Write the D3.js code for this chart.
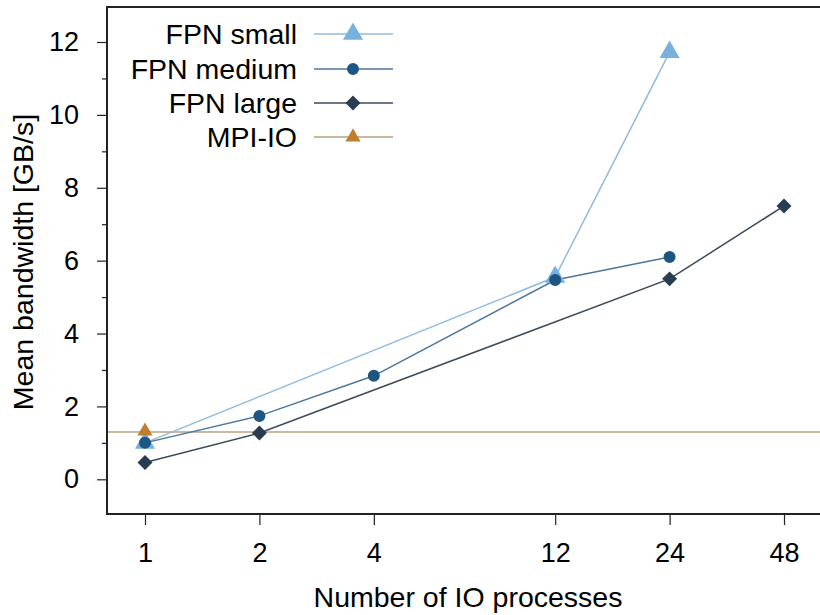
<!DOCTYPE html>
<html>
<head>
<meta charset="utf-8">
<script src="https://cdn.jsdelivr.net/npm/d3@7"></script>
<style>
  body { margin: 0; background: #fff; }
  text { font-family: "Liberation Sans", Arial, sans-serif; fill: #000; }
</style>
</head>
<body>
<div class="canva"></div>
<script>
// data
const xTicks = [1, 2, 4, 12, 24, 48];
const yTicks = [0, 2, 4, 6, 8, 10, 12];
const yMinor = [1, 3, 5, 7, 9, 11];

const smallX = [1, 12, 24];
const smallY = [1.0, 5.55, 11.72];
const mediumX = [1, 2, 4, 12, 24];
const mediumY = [1.0, 1.74, 2.84, 5.47, 6.1];
const largeX = [1, 2, 24, 48];
const largeY = [0.46, 1.27, 5.5, 7.5];
const mpiX = [1];
const mpiY = [1.32];
const mpiLevel = 1.3;

const names = ["FPN small", "FPN medium", "FPN large", "MPI-IO"];

const svg = d3.select(".canva").append("svg")
  .attr("width", 820)
  .attr("height", 615);

const plotLeft = 107, plotTop = 7, plotBottom = 514, plotRight = 830;

const x = d3.scaleLog().base(2).domain([1, 48]).range([145, 784]);
const y = d3.scaleLinear().domain([0, 12]).range([479.3, 42]);

// frame (right side is cut off in the original)
svg.append("path")
  .attr("d", `M${plotRight},${plotTop}H${plotLeft}V${plotBottom}H${plotRight}`)
  .attr("fill", "none")
  .attr("stroke", "#222")
  .attr("stroke-width", 2);

// y axis
const yAxis = svg.append("g")
  .attr("transform", `translate(${plotLeft - 1},0)`)
  .call(d3.axisLeft(y).tickValues(yTicks).tickSize(9).tickPadding(18).tickSizeOuter(0))
  .style("font-size", "27px")
  .style("font-family", "Liberation Sans, Arial, sans-serif");
yAxis.select(".domain").remove();
yAxis.selectAll("line").attr("stroke", "#222").attr("stroke-width", 1.2);

svg.append("g")
  .attr("transform", `translate(${plotLeft - 1},0)`)
  .call(d3.axisLeft(y).tickValues(yMinor).tickSize(4).tickFormat(""))
  .call(g => g.select(".domain").remove())
  .selectAll("line").attr("stroke", "#222").attr("stroke-width", 1.2);

// x axis
const xAxis = svg.append("g")
  .attr("transform", `translate(0,${plotBottom + 1})`)
  .call(d3.axisBottom(x).tickValues(xTicks).tickFormat(d3.format("d")).tickSize(10).tickPadding(18).tickSizeOuter(0))
  .style("font-size", "27px")
  .style("font-family", "Liberation Sans, Arial, sans-serif");
xAxis.select(".domain").remove();
xAxis.selectAll("line").attr("stroke", "#222").attr("stroke-width", 1.2);

// axis titles
svg.append("text")
  .attr("transform", "translate(33,262) rotate(-90)")
  .attr("text-anchor", "middle")
  .style("font-size", "28.5px")
  .text("Mean bandwidth [GB/s]");

svg.append("text")
  .attr("x", 468).attr("y", 607)
  .attr("text-anchor", "middle")
  .style("font-size", "28.5px")
  .text("Number of IO processes");

// MPI-IO reference level
svg.append("line")
  .attr("x1", plotLeft + 1).attr("x2", plotRight)
  .attr("y1", y(mpiLevel)).attr("y2", y(mpiLevel))
  .attr("stroke", "#b8a283")
  .attr("stroke-width", 1.6);

const series = [
  {xs: smallX, ys: smallY, line: "#8fbbe2", fill: "#78b0df", sym: d3.symbolTriangle, size: 175, rot: 0},
  {xs: mediumX, ys: mediumY, line: "#4c779e", fill: "#1d5583", sym: d3.symbolCircle, size: 113, rot: 0},
  {xs: largeX, ys: largeY, line: "#3b4b5c", fill: "#283d50", sym: d3.symbolSquare, size: 112, rot: 45},
  {xs: mpiX, ys: mpiY, line: "#b8a283", fill: "#c07f2c", sym: d3.symbolTriangle, size: 100, rot: 0}
];

const line = d3.line()
  .x(d => x(d[0]))
  .y(d => y(d[1]));

series.forEach(s => {
  const pts = s.xs.map((v, i) => [v, s.ys[i]]);
  if (pts.length > 1) {
    svg.append("path")
      .datum(pts)
      .attr("d", line)
      .attr("fill", "none")
      .attr("stroke", s.line)
      .attr("stroke-width", 1.5);
  }
});

series.forEach(s => {
  const pts = s.xs.map((v, i) => [v, s.ys[i]]);
  svg.selectAll(null)
    .data(pts)
    .enter()
    .append("path")
    .attr("d", d3.symbol().type(s.sym).size(s.size))
    .attr("transform", d => `translate(${x(d[0])},${y(d[1])}) rotate(${s.rot})`)
    .attr("fill", s.fill);
});

// legend
const legendY = [34, 69, 103, 137];
series.forEach((s, i) => {
  svg.append("text")
    .attr("x", 297).attr("y", legendY[i])
    .attr("dy", "0.35em")
    .attr("text-anchor", "end")
    .style("font-size", "28.5px")
    .text(names[i]);
  svg.append("line")
    .attr("x1", 314).attr("x2", 393)
    .attr("y1", legendY[i]).attr("y2", legendY[i])
    .attr("stroke", s.line)
    .attr("stroke-width", 1.6);
  svg.append("path")
    .attr("d", d3.symbol().type(s.sym).size(s.size))
    .attr("transform", `translate(353,${legendY[i]}) rotate(${s.rot})`)
    .attr("fill", s.fill);
});
</script>
</body>
</html>
